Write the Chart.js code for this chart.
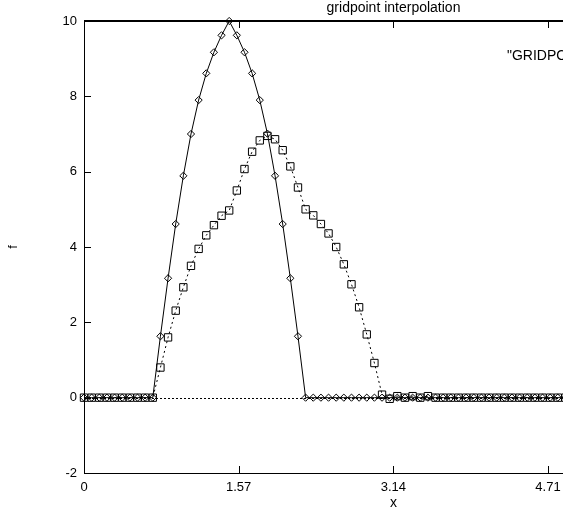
<!DOCTYPE html>
<html><head><meta charset="utf-8">
<script src="https://cdn.jsdelivr.net/npm/chart.js@4/dist/chart.umd.min.js"></script>
<style>html,body{margin:0;padding:0;background:#fff;overflow:hidden}#wrap{width:563px;height:510px;position:relative}</style>
</head><body><div id="wrap"><canvas id="c" width="563" height="510"></canvas></div>
<script>
const xValues = [0,0.0776,0.1551,0.2327,0.3103,0.3879,0.4654,0.5430,0.6206,0.6981,
  0.7757,0.8533,0.9308,1.0084,1.0860,1.1636,1.2411,1.3187,1.3963,1.4738,
  1.5514,1.6290,1.7065,1.7841,1.8617,1.9393,2.0168,2.0944,2.1720,2.2495,
  2.3271,2.4047,2.4822,2.5598,2.6374,2.7150,2.7925,2.8701,2.9477,3.0252,
  3.1028,3.1804,3.2579,3.3355,3.4131,3.4907,3.5682,3.6458,3.7234,3.8009,
  3.8785,3.9561,4.0336,4.1112,4.1888,4.2664,4.3439,4.4215,4.4991,4.5766,
  4.6542,4.7318,4.8093,4.8869];
const gridpointF = [0,0,0,0,0,0,0,0,0,0,
  1.63,3.17,4.61,5.89,7.00,7.90,8.61,9.17,9.62,10.0,
  9.62,9.17,8.61,7.90,7.01,5.89,4.61,3.17,1.63,0,
  0,0,0,0,0,0,0,0,0,0,
  0,0,0,0,0,0,0,0,0,0,
  0,0,0,0,0,0,0,0,0,0,
  0,0,0,0];
const interpolatedF = [0,0,0,0,0,0,0,0,0,0,
  0.80,1.60,2.31,2.93,3.50,3.95,4.31,4.58,4.83,4.97,
  5.50,6.07,6.53,6.83,6.95,6.86,6.57,6.14,5.58,5.00,
  4.84,4.61,4.36,4.00,3.54,3.01,2.40,1.68,0.92,0.08,
  -0.03,0.04,0.00,0.04,0.00,0.04,0,0,0,0,
  0,0,0,0,0,0,0,0,0,0,
  0,0,0,0];
const xTicks = [0, 1.57, 3.14, 4.71];
const yTicks = [-2, 0, 2, 4, 6, 8, 10];
const titleText = 'gridpoint interpolation';
const xTitle = 'x';
const yTitle = 'f';
const legendText = '"GRIDPOINT';
const titleCenterX = 3.1416;

const FONT = '"Liberation Sans", Arial, Helvetica, sans-serif';

const deco = {
  id: 'deco',
  beforeDatasetsDraw(chart) {
    const {ctx, chartArea: a, scales: {y}} = chart;
    ctx.save();
    const y0 = Math.round(y.getPixelForValue(0)) + 0.5;
    ctx.strokeStyle = '#000'; ctx.lineWidth = 1; ctx.setLineDash([2, 2]);
    ctx.beginPath(); ctx.moveTo(a.left, y0); ctx.lineTo(a.right, y0); ctx.stroke();
    ctx.restore();
  },
  afterDraw(chart) {
    const {ctx, chartArea: a, scales: {x, y}} = chart;
    ctx.save();
    ctx.strokeStyle = '#000';
    ctx.lineWidth = 2;
    ctx.beginPath(); ctx.moveTo(a.left, a.top); ctx.lineTo(a.right, a.top); ctx.stroke();
    ctx.lineWidth = 1;
    ctx.beginPath();
    xTicks.forEach(v => {
      const px = Math.round(x.getPixelForValue(v)) + 0.5;
      ctx.moveTo(px, a.top); ctx.lineTo(px, a.top + 7);
      ctx.moveTo(px, a.bottom); ctx.lineTo(px, a.bottom - 7);
    });
    yTicks.forEach(v => {
      const py = Math.round(y.getPixelForValue(v)) + 0.5;
      ctx.moveTo(a.left, py); ctx.lineTo(a.left + 7, py);
    });
    ctx.stroke();
    ctx.fillStyle = '#000';
    const cx = x.getPixelForValue(titleCenterX);
    ctx.textAlign = 'center'; ctx.textBaseline = 'alphabetic';
    ctx.font = '14px ' + FONT;
    ctx.fillText(titleText, cx, 11.5);
    ctx.fillText(xTitle, cx, 507);
    ctx.textAlign = 'left';
    ctx.fillText(legendText, 507, 60);
    ctx.restore();
  }
};

new Chart(document.getElementById('c'), {
  type: 'line',
  data: {
    datasets: [
      {
        label: 'gridpoint',
        data: xValues.map((v, i) => ({x: v, y: gridpointF[i]})),
        borderColor: '#000', borderWidth: 1, tension: 0,
        pointStyle: 'rectRot', pointRadius: 3.6, pointBorderWidth: 1,
        pointBackgroundColor: 'rgba(255,255,255,0)', pointBorderColor: '#000',
        clip: false
      },
      {
        label: 'interpolated',
        data: xValues.map((v, i) => ({x: v, y: interpolatedF[i]})),
        borderColor: '#000', borderWidth: 1, borderDash: [2, 3], tension: 0,
        pointStyle: 'rect', pointRadius: 5.2, pointBorderWidth: 1,
        pointBackgroundColor: 'rgba(255,255,255,0)', pointBorderColor: '#000',
        clip: false
      }
    ]
  },
  options: {
    responsive: false, devicePixelRatio: 1, animation: false,
    layout: {autoPadding: false, padding: {top: 21, left: 0, right: 0, bottom: 0}},
    plugins: {legend: {display: false}, tooltip: {enabled: false}, title: {display: false}},
    scales: {
      x: {
        type: 'linear', min: 0, max: 4.862,
        afterBuildTicks: s => { s.ticks = xTicks.map(v => ({value: v})); },
        afterFit: s => { s.height = 37; },
        grid: {display: false, drawTicks: true, tickLength: 7},
        border: {display: true, color: '#000', width: 1},
        ticks: {color: '#000', padding: 0, maxRotation: 0, autoSkip: false,
          font: {family: FONT, size: 13}, callback: v => String(v)}
      },
      y: {
        type: 'linear', min: -2, max: 10,
        afterBuildTicks: s => { s.ticks = yTicks.map(v => ({value: v})); },
        afterFit: s => { s.width = 84; },
        grid: {display: false, drawTicks: true, tickLength: 7},
        border: {display: true, color: '#000', width: 1},
        ticks: {color: '#000', padding: 0, font: {family: FONT, size: 13}, callback: v => String(v)},
        title: {display: true, text: yTitle, color: '#000', padding: {top: 6, bottom: 0},
          font: {family: FONT, size: 13}}
      }
    }
  },
  plugins: [deco]
});
</script></body></html>
